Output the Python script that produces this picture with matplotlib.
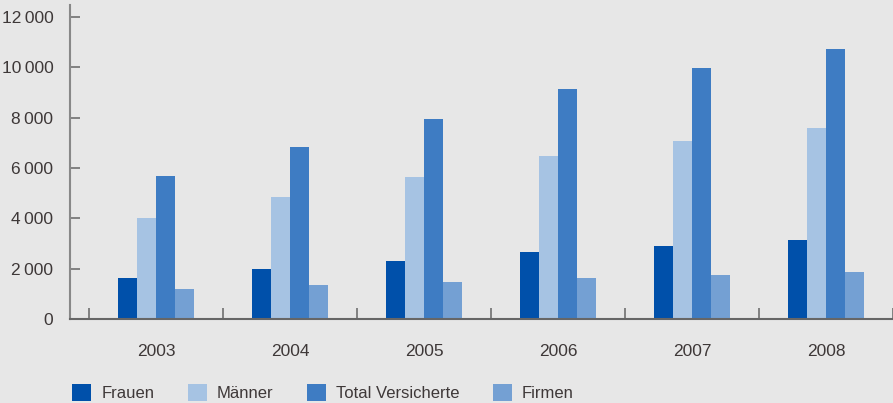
import matplotlib
matplotlib.use("Agg")
import matplotlib.pyplot as plt
import numpy as np
from matplotlib.patches import Patch
from matplotlib.ticker import FuncFormatter

years = ["2003", "2004", "2005", "2006", "2007", "2008"]
frauen = [1630, 1990, 2310, 2660, 2900, 3140]
maenner = [4020, 4850, 5650, 6480, 7080, 7590]
total = [5690, 6840, 7950, 9145, 9980, 10740]
firmen = [1195, 1350, 1470, 1630, 1750, 1870]

series = [("Frauen", frauen, "#0050aa"),
          ("Männer", maenner, "#a6c3e3"),
          ("Total Versicherte", total, "#3e7cc3"),
          ("Firmen", firmen, "#74a0d3")]

bg = "#e7e7e7"
txt = "#3e3838"
plt.rcParams['font.family'] = ['Liberation Sans', 'DejaVu Sans']

fig = plt.figure(figsize=(8.93, 4.03), dpi=100, facecolor=bg)
ax = fig.add_axes([70/893, 84/403, 823/893, 314/403], facecolor=bg)

x = np.arange(len(years))
w = 0.142
for i, (name, vals, col) in enumerate(series):
    ax.bar(x + (i - 1.5) * w, vals, width=w, color=col, linewidth=0)

ax.set_xlim(-0.642, 5.5)
ax.set_ylim(0, 12480)
ax.set_yticks(range(0, 12001, 2000))
# thousands separated by a thin space, like the source
ax.yaxis.set_major_formatter(FuncFormatter(lambda v, p: f"{int(v):,}".replace(",", "\u2009")))

ax.set_xticks(np.arange(-0.5, 5.6, 1.0))
ax.set_xticklabels([])
ax.set_xticks(x, minor=True)
ax.set_xticklabels(years, minor=True)
ax.tick_params(axis='x', which='major', direction='in', length=8, width=1.2, color="#707070")
ax.tick_params(axis='x', which='minor', length=0, pad=18, labelsize=12.5, labelcolor=txt)
ax.tick_params(axis='y', direction='in', length=7, width=1.2, color="#707070",
               pad=12, labelsize=12.5, labelcolor=txt)

for s in ("top", "right"):
    ax.spines[s].set_visible(False)
ax.spines["left"].set_color("#888888")
ax.spines["left"].set_linewidth(1.5)
ax.spines["bottom"].set_color("#666666")
ax.spines["bottom"].set_linewidth(1.5)

handles = [Patch(facecolor=c, edgecolor='none', label=n) for n, _, c in series]
fig.legend(handles=handles, loc="lower left", bbox_to_anchor=(72/893, 2/403),
           ncol=4, frameon=False, fontsize=12, labelcolor=txt,
           handlelength=1.15, handleheight=1.15, handletextpad=0.6,
           columnspacing=2.0, borderpad=0, borderaxespad=0)

fig.savefig("out.png", dpi=100, facecolor=bg)
